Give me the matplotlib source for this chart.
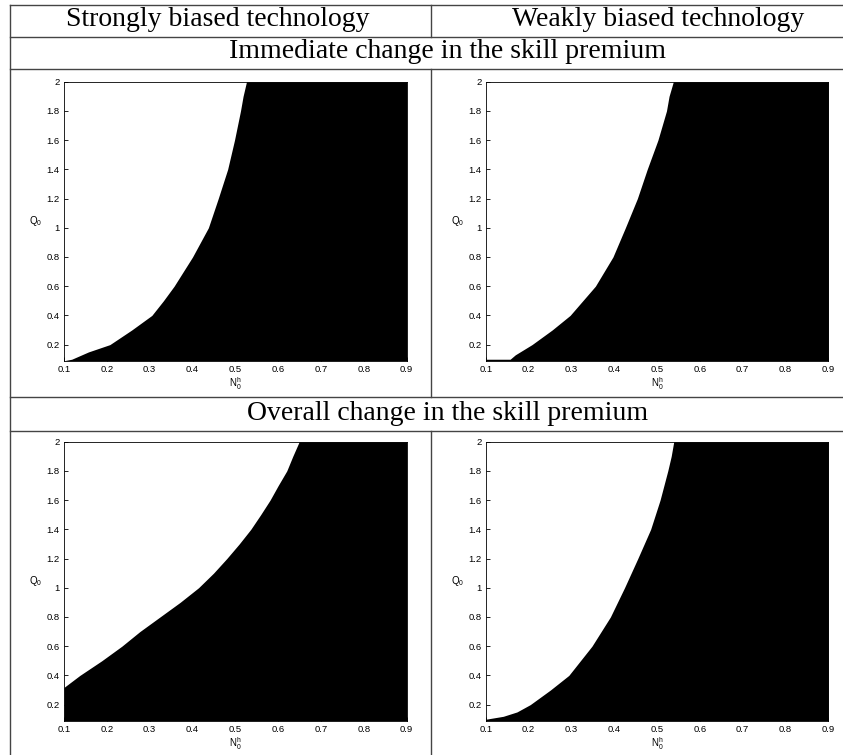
import numpy as np
import matplotlib
matplotlib.use('Agg')
import matplotlib.pyplot as plt
from matplotlib.lines import Line2D

# table captions
col_titles = ['Strongly biased technology', 'Weakly biased technology']
row_titles = ['Immediate change in the skill premium', 'Overall change in the skill premium']

# boundary of the black region: Q0 values and the N0h where black starts
q_imm_strong = [0.09, 0.10, 0.15, 0.20, 0.30, 0.40, 0.50, 0.60, 0.80, 1.00, 1.20, 1.40, 1.60, 1.80, 1.90, 2.00]
n_imm_strong = [0.100, 0.118, 0.157, 0.207, 0.258, 0.305, 0.332, 0.357, 0.400, 0.437, 0.460, 0.482, 0.498, 0.512, 0.518, 0.526]

q_imm_weak = [0.09, 0.10, 0.10, 0.13, 0.20, 0.30, 0.40, 0.60, 0.80, 1.00, 1.20, 1.40, 1.60, 1.80, 1.90, 2.00]
n_imm_weak = [0.100, 0.100, 0.157, 0.169, 0.208, 0.255, 0.297, 0.356, 0.397, 0.426, 0.454, 0.477, 0.502, 0.522, 0.528, 0.538]

q_ovr_strong = [0.09, 0.318, 0.40, 0.50, 0.60, 0.70, 0.80, 0.90, 1.00, 1.10, 1.20, 1.30, 1.40, 1.50, 1.60, 1.70, 1.80, 1.90, 2.00]
n_ovr_strong = [0.100, 0.100, 0.137, 0.188, 0.235, 0.277, 0.324, 0.371, 0.414, 0.449, 0.480, 0.509, 0.536, 0.559, 0.581, 0.600, 0.620, 0.634, 0.649]

q_ovr_weak = [0.09, 0.10, 0.12, 0.15, 0.20, 0.30, 0.40, 0.60, 0.80, 1.00, 1.20, 1.40, 1.60, 1.80, 1.90, 2.00]
n_ovr_weak = [0.100, 0.100, 0.141, 0.173, 0.204, 0.251, 0.294, 0.348, 0.391, 0.424, 0.455, 0.485, 0.507, 0.525, 0.533, 0.539]

x_ticks = [0.1, 0.2, 0.3, 0.4, 0.5, 0.6, 0.7, 0.8, 0.9]
y_ticks = [0.2, 0.4, 0.6, 0.8, 1.0, 1.2, 1.4, 1.6, 1.8, 2.0]
y_ticklabels = ['0.2', '0.4', '0.6', '0.8', '1', '1.2', '1.4', '1.6', '1.8', '2']

W, H = 843, 755
plt.rcParams['font.family'] = ['Liberation Sans', 'DejaVu Sans']
plt.rcParams['mathtext.default'] = 'regular'
fig = plt.figure(figsize=(W / 100, H / 100), dpi=100)


def fx(px):
    return px / W


def fy(py):
    return 1 - py / H


def hline(y, x0=10, x1=843):
    fig.add_artist(Line2D([fx(x0), fx(x1)], [fy(y), fy(y)], color='#444444', lw=1.0))


def vline(x, y0, y1):
    fig.add_artist(Line2D([fx(x), fx(x)], [fy(y0), fy(y1)], color='#444444', lw=1.0))


# table frame
for y in [5, 37, 69, 397, 431]:
    hline(y)
vline(10, 5, 755)
vline(431, 5, 37)
vline(431, 69, 397)
vline(431, 431, 755)

serif = ['Liberation Serif', 'DejaVu Serif']
fig.text(fx(218), fy(20), col_titles[0], ha='center', va='center', fontsize=20, family=serif)
fig.text(fx(658), fy(20), col_titles[1], ha='center', va='center', fontsize=20, family=serif)
fig.text(fx(448), fy(52), row_titles[0], ha='center', va='center', fontsize=20, family=serif)
fig.text(fx(448), fy(413), row_titles[1], ha='center', va='center', fontsize=20, family=serif)

panels = [
    (64, 81.7, q_imm_strong, n_imm_strong),
    (485.7, 81.7, q_imm_weak, n_imm_weak),
    (64, 441.7, q_ovr_strong, n_ovr_strong),
    (485.7, 441.7, q_ovr_weak, n_ovr_weak),
]
ax_w = 342.7
ax_h = 279.0

for left, top, q, n in panels:
    ax = fig.add_axes([fx(left), fy(top + ax_h), ax_w / W, ax_h / H])
    ax.fill_betweenx(q, n, 0.9, color='black', lw=0)
    ax.set_xlim(0.1, 0.9)
    ax.set_ylim(0.09, 2.0)
    ax.set_xticks(x_ticks)
    ax.set_xticklabels([f'{v:g}' for v in x_ticks])
    ax.set_yticks(y_ticks)
    ax.set_yticklabels(y_ticklabels)
    ax.tick_params(direction='in', length=3, width=0.6, labelsize=6.8, pad=3)
    for s in ax.spines.values():
        s.set_linewidth(0.6)
    ax.set_xlabel('$N_0^h$', fontsize=7, labelpad=1)
    ax.set_ylabel('$Q_0$', fontsize=7, rotation=0, labelpad=8, va='center')

fig.savefig('out.png', dpi=100)
